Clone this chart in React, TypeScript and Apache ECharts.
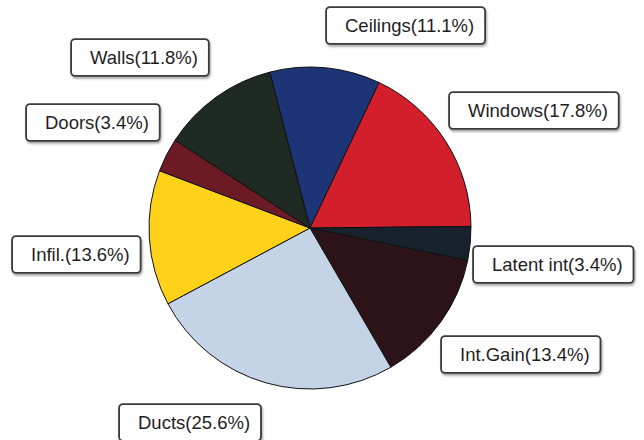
import React, { useEffect, useRef } from "react";
import * as echarts from "echarts";

const categories = ["Ceilings", "Windows", "Latent int", "Int.Gain", "Ducts", "Infil.", "Doors", "Walls"];
const shares = [11.1, 17.8, 3.4, 13.4, 25.6, 13.6, 3.4, 11.8];
const sliceColors = ["#1d3576", "#d21f2b", "#18222d", "#2c1318", "#c4d3e6", "#fdd218", "#6c1a24", "#1e2a22"];
// top-left corners of the label boxes, in page pixels
const labelAnchors: [number, number][] = [
  [327, 8],
  [450, 93],
  [474, 247],
  [442, 337],
  [120, 405],
  [13, 237],
  [27, 105],
  [72, 40],
];

export default function App() {
  const ref = useRef<HTMLDivElement>(null);
  useEffect(() => {
    if (!ref.current) return;
    const chart = echarts.init(ref.current, undefined, { renderer: "svg" });
    chart.setOption({
      animation: false,
      backgroundColor: "#ffffff",
      series: [
        {
          type: "pie",
          center: [310, 228],
          radius: 161,
          startAngle: 104.5,
          clockwise: true,
          avoidLabelOverlap: false,
          itemStyle: { borderColor: "#111", borderWidth: 1 },
          label: {
            show: true,
            position: "outside",
            formatter: (p: any) => `${p.name}(${p.value}%)`,
            color: "#1e1e1e",
            fontFamily: "Liberation Sans, Arial, sans-serif",
            fontSize: 18.5,
            lineHeight: 21,
            backgroundColor: "#ffffff",
            borderColor: "#3a3a3a",
            borderWidth: 1.8,
            borderRadius: 3,
            padding: [7, 10, 7, 18],
            shadowColor: "rgba(0,0,0,0.35)",
            shadowBlur: 2,
            shadowOffsetX: 1,
            shadowOffsetY: 2,
          },
          labelLine: { show: false },
          labelLayout: (params: any) => {
            const a = labelAnchors[params.dataIndex];
            return { x: a[0], y: a[1], align: "left", verticalAlign: "top", hideOverlap: false };
          },
          data: categories.map((name, i) => ({
            name,
            value: shares[i],
            itemStyle: { color: sliceColors[i] },
          })),
        },
      ],
    });
    return () => chart.dispose();
  }, []);
  return <div ref={ref} style={{ position: "fixed", left: 0, top: 0, width: 644, height: 440 }} />;
}
